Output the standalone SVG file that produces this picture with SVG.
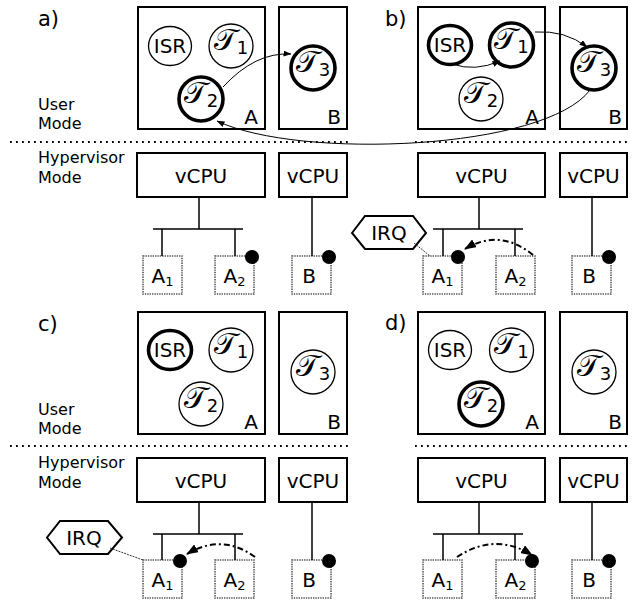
<svg xmlns="http://www.w3.org/2000/svg" width="633" height="602" viewBox="0 0 633 602">
<style>
text{font-family:"DejaVu Sans","Liberation Sans",sans-serif;fill:#000}
.box{fill:none;stroke:#000;stroke-width:2}
.thin{fill:#fff;stroke:#000;stroke-width:1.3}
.thick{fill:#fff;stroke:#000;stroke-width:3.6}
.dev{fill:#fff;stroke:#555;stroke-width:1.6;stroke-dasharray:1.4 1}
.ln{stroke:#000;stroke-width:1.5;fill:none}
.sep{stroke:#000;stroke-width:1.8;stroke-dasharray:1.8 4.2;fill:none}
.arr{stroke:#000;stroke-width:1;fill:none;marker-end:url(#ah)}
.dd{stroke:#000;stroke-width:2;fill:none;stroke-dasharray:6 3 2 3;marker-end:url(#ah2)}
.irql{stroke:#333;stroke-width:1;stroke-dasharray:2 1;fill:none}
.hex{fill:#fff;stroke:#000;stroke-width:2}
.t20{font-size:20px}
.t16{font-size:16px}
.lab{font-size:21px}
.tau{font-size:30px;font-family:"DejaVu Serif","DejaVu Sans","Noto Sans",serif}
.sub{font-size:18px;font-family:"DejaVu Sans",sans-serif}
.dsub{font-size:13px}
</style>
<defs>
<marker id="ah" markerWidth="8" markerHeight="6" refX="7.5" refY="3" orient="auto" markerUnits="userSpaceOnUse"><path d="M0,0 L8,3 L0,6 z" fill="#000"/></marker>
<marker id="ah2" markerWidth="12" markerHeight="9" refX="11" refY="4.5" orient="auto" markerUnits="userSpaceOnUse"><path d="M0,0 L12,4.5 L0,9 z" fill="#000"/></marker>
</defs>

<g id="labels">
<text class="lab" x="38" y="26">a)</text>
<text class="lab" x="385" y="26">b)</text>
<text class="lab" x="38" y="331">c)</text>
<text class="lab" x="385" y="330">d)</text>
<text class="t16" x="38" y="110">User</text>
<text class="t16" x="38" y="129">Mode</text>
<text class="t16" x="38" y="163">Hypervisor</text>
<text class="t16" x="38" y="183">Mode</text>
<text class="t16" x="38" y="415">User</text>
<text class="t16" x="38" y="434">Mode</text>
<text class="t16" x="38" y="468">Hypervisor</text>
<text class="t16" x="38" y="488">Mode</text>
</g>

<g id="separators">
<line class="sep" x1="10" y1="142" x2="352" y2="142"/>
<line class="sep" x1="415" y1="142" x2="630" y2="142"/>
<line class="sep" x1="10" y1="446" x2="352" y2="446"/>
<line class="sep" x1="415" y1="446" x2="630" y2="446"/>
</g>

<!-- ===== a) ===== -->
<g id="a-boxA"><rect class="box" x="138" y="7" width="127" height="122"/><text class="t20" x="258" y="124" text-anchor="end">A</text></g>
<g id="a-boxB"><rect class="box" x="279" y="7" width="68" height="122"/><text class="t20" x="341" y="124" text-anchor="end">B</text></g>
<g id="a-ISR"><ellipse class="thin" cx="170" cy="46" rx="21.5" ry="19.5"/><text class="t20" x="170" y="53" text-anchor="middle">ISR</text></g>
<g id="a-T1"><circle class="thin" cx="231" cy="46" r="22"/><text class="tau" x="231" y="50" text-anchor="middle">𝒯<tspan class="sub" dy="4">1</tspan></text></g>
<g id="a-T2"><circle class="thick" cx="201" cy="99" r="22"/><text class="tau" x="201" y="103" text-anchor="middle">𝒯<tspan class="sub" dy="4">2</tspan></text></g>
<g id="a-T3"><circle class="thick" cx="313" cy="68" r="22"/><text class="tau" x="313" y="72" text-anchor="middle">𝒯<tspan class="sub" dy="4">3</tspan></text></g>
<g id="a-vcpuA"><rect class="box" x="137" y="153" width="128" height="44"/><text class="t20" x="201" y="183" text-anchor="middle">vCPU</text></g>
<g id="a-vcpuB"><rect class="box" x="279" y="153" width="68" height="44"/><text class="t20" x="313" y="183" text-anchor="middle">vCPU</text></g>
<g id="a-A1"><rect class="dev" x="143" y="256" width="39" height="38"/><text class="t20" x="162.5" y="283" text-anchor="middle">A<tspan class="dsub" dy="3">1</tspan></text></g>
<g id="a-A2"><rect class="dev" x="215" y="256" width="39" height="38"/><text class="t20" x="234.5" y="283" text-anchor="middle">A<tspan class="dsub" dy="3">2</tspan></text></g>
<g id="a-B"><rect class="dev" x="292" y="256" width="39" height="38"/><text class="t20" x="309" y="283" text-anchor="middle">B</text></g>

<!-- ===== b) ===== -->
<g id="b-boxA"><rect class="box" x="418" y="7" width="127" height="122"/><text class="t20" x="539" y="124" text-anchor="end">A</text></g>
<g id="b-boxB"><rect class="box" x="560" y="7" width="67" height="122"/><text class="t20" x="622" y="124" text-anchor="end">B</text></g>
<g id="b-ISR"><ellipse class="thick" cx="450" cy="45" rx="21.5" ry="19.5"/><text class="t20" x="450" y="52" text-anchor="middle">ISR</text></g>
<g id="b-T1"><circle class="thick" cx="511.5" cy="45" r="22"/><text class="tau" x="511.5" y="49" text-anchor="middle">𝒯<tspan class="sub" dy="4">1</tspan></text></g>
<g id="b-T2"><circle class="thin" cx="481" cy="99" r="22"/><text class="tau" x="481" y="103" text-anchor="middle">𝒯<tspan class="sub" dy="4">2</tspan></text></g>
<g id="b-T3"><circle class="thick" cx="594" cy="68" r="22"/><text class="tau" x="594" y="72" text-anchor="middle">𝒯<tspan class="sub" dy="4">3</tspan></text></g>
<g id="b-vcpuA"><rect class="box" x="418" y="153" width="127" height="44"/><text class="t20" x="481.5" y="183" text-anchor="middle">vCPU</text></g>
<g id="b-vcpuB"><rect class="box" x="560" y="153" width="67" height="44"/><text class="t20" x="593.5" y="183" text-anchor="middle">vCPU</text></g>
<g id="b-A1"><rect class="dev" x="423" y="256" width="39" height="38"/><text class="t20" x="442.5" y="283" text-anchor="middle">A<tspan class="dsub" dy="3">1</tspan></text></g>
<g id="b-A2"><rect class="dev" x="496" y="256" width="39" height="38"/><text class="t20" x="515.5" y="283" text-anchor="middle">A<tspan class="dsub" dy="3">2</tspan></text></g>
<g id="b-B"><rect class="dev" x="572" y="256" width="39" height="38"/><text class="t20" x="589" y="283" text-anchor="middle">B</text></g>
<g id="b-IRQ"><polygon class="hex" points="352,233 365,216 413,216 426,233 413,249 365,249"/><text class="t20" x="389" y="240" text-anchor="middle">IRQ</text></g>

<!-- ===== c) ===== -->
<g id="c-boxA"><rect class="box" x="138" y="312" width="127" height="122"/><text class="t20" x="258" y="429" text-anchor="end">A</text></g>
<g id="c-boxB"><rect class="box" x="279" y="312" width="68" height="122"/><text class="t20" x="341" y="429" text-anchor="end">B</text></g>
<g id="c-ISR"><ellipse class="thick" cx="170" cy="350" rx="21.5" ry="19.5"/><text class="t20" x="170" y="357" text-anchor="middle">ISR</text></g>
<g id="c-T1"><circle class="thin" cx="231" cy="350" r="22"/><text class="tau" x="231" y="354" text-anchor="middle">𝒯<tspan class="sub" dy="4">1</tspan></text></g>
<g id="c-T2"><circle class="thin" cx="201" cy="404" r="22"/><text class="tau" x="201" y="408" text-anchor="middle">𝒯<tspan class="sub" dy="4">2</tspan></text></g>
<g id="c-T3"><circle class="thin" cx="313" cy="372" r="22"/><text class="tau" x="313" y="376" text-anchor="middle">𝒯<tspan class="sub" dy="4">3</tspan></text></g>
<g id="c-vcpuA"><rect class="box" x="137" y="458" width="128" height="44"/><text class="t20" x="201" y="488" text-anchor="middle">vCPU</text></g>
<g id="c-vcpuB"><rect class="box" x="279" y="458" width="68" height="44"/><text class="t20" x="313" y="488" text-anchor="middle">vCPU</text></g>
<g id="c-A1"><rect class="dev" x="143" y="560" width="39" height="38"/><text class="t20" x="162.5" y="587" text-anchor="middle">A<tspan class="dsub" dy="3">1</tspan></text></g>
<g id="c-A2"><rect class="dev" x="215" y="560" width="39" height="38"/><text class="t20" x="234.5" y="587" text-anchor="middle">A<tspan class="dsub" dy="3">2</tspan></text></g>
<g id="c-B"><rect class="dev" x="292" y="560" width="39" height="38"/><text class="t20" x="309" y="587" text-anchor="middle">B</text></g>
<g id="c-IRQ"><polygon class="hex" points="47,537.5 60,521 108,521 122,537.5 108,554 60,554"/><text class="t20" x="84" y="545" text-anchor="middle">IRQ</text></g>

<!-- ===== d) ===== -->
<g id="d-boxA"><rect class="box" x="418" y="312" width="127" height="122"/><text class="t20" x="539" y="429" text-anchor="end">A</text></g>
<g id="d-boxB"><rect class="box" x="560" y="312" width="67" height="122"/><text class="t20" x="622" y="429" text-anchor="end">B</text></g>
<g id="d-ISR"><ellipse class="thin" cx="450" cy="350" rx="21.5" ry="19.5"/><text class="t20" x="450" y="357" text-anchor="middle">ISR</text></g>
<g id="d-T1"><circle class="thin" cx="511.5" cy="350" r="22"/><text class="tau" x="511.5" y="354" text-anchor="middle">𝒯<tspan class="sub" dy="4">1</tspan></text></g>
<g id="d-T2"><circle class="thick" cx="481" cy="404" r="22"/><text class="tau" x="481" y="408" text-anchor="middle">𝒯<tspan class="sub" dy="4">2</tspan></text></g>
<g id="d-T3"><circle class="thin" cx="594" cy="372" r="22"/><text class="tau" x="594" y="376" text-anchor="middle">𝒯<tspan class="sub" dy="4">3</tspan></text></g>
<g id="d-vcpuA"><rect class="box" x="418" y="458" width="127" height="44"/><text class="t20" x="481.5" y="488" text-anchor="middle">vCPU</text></g>
<g id="d-vcpuB"><rect class="box" x="560" y="458" width="67" height="44"/><text class="t20" x="593.5" y="488" text-anchor="middle">vCPU</text></g>
<g id="d-A1"><rect class="dev" x="423" y="560" width="39" height="38"/><text class="t20" x="442.5" y="587" text-anchor="middle">A<tspan class="dsub" dy="3">1</tspan></text></g>
<g id="d-A2"><rect class="dev" x="496" y="560" width="39" height="38"/><text class="t20" x="515.5" y="587" text-anchor="middle">A<tspan class="dsub" dy="3">2</tspan></text></g>
<g id="d-B"><rect class="dev" x="572" y="560" width="39" height="38"/><text class="t20" x="589" y="587" text-anchor="middle">B</text></g>

<g id="connectors">
<path class="ln" d="M199,197V229M153,229H243M162,229V256M235,229V256M312,197V256"/>
<path class="ln" d="M479,197V229M433,229H523M443,229V256M515,229V256M592,197V256"/>
<path class="ln" d="M199,502V534M153,534H243M162,534V560M235,534V560M312,502V560"/>
<path class="ln" d="M479,502V534M433,534H523M443,534V560M515,534V560M592,502V560"/>
<path class="irql" d="M414,243L430,256"/>
<path class="irql" d="M110,548L143,560"/>
<path class="arr" d="M223,87Q255,52 291,54"/>
<path class="arr" d="M590,90C545,150 300,160 217,121"/>
<path class="arr" d="M452,64Q475,72 500,61"/>
<path class="arr" d="M535,32Q565,30 587,47"/>
<path class="dd" d="M533,255Q500,228 465,249"/>
<path class="dd" d="M255,557Q222,533 187,554"/>
<path class="dd" d="M457,557Q495,532 532,555"/>
</g>

<g id="dots" fill="#000">
<circle cx="252" cy="257" r="7"/>
<circle cx="329" cy="257" r="7"/>
<circle cx="458" cy="257" r="7"/>
<circle cx="609" cy="257" r="7"/>
<circle cx="180" cy="561" r="7"/>
<circle cx="329" cy="561" r="7"/>
<circle cx="532" cy="561" r="7"/>
<circle cx="609" cy="561" r="7"/>
</g>
</svg>
